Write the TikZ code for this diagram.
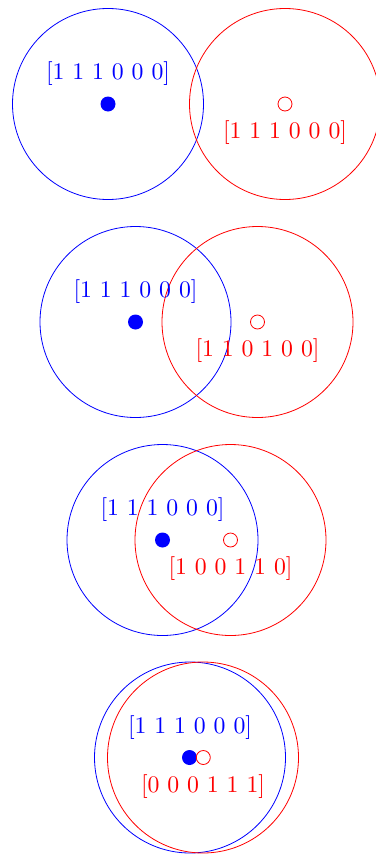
\documentclass[tikz,border=0pt]{standalone}
\newcommand{\bigtxt}[1]{\scalebox{2.375}{\fontsize{10}{12}\selectfont #1}}
\begin{document}
\begin{tikzpicture}[x=1pt,y=-1pt,
  bigb/.style={circle,draw=blue,line width=0.8pt,minimum size=191pt,inner sep=0pt},
  bigr/.style={circle,draw=red,line width=0.8pt,minimum size=191pt,inner sep=0pt},
  dotb/.style={circle,fill=blue,minimum size=15pt,inner sep=0pt},
  dotr/.style={circle,draw=red,fill=white,line width=0.8pt,minimum size=14pt,inner sep=0pt},
  labb/.style={text=blue,inner sep=0pt},
  labr/.style={text=red,inner sep=0pt}]
\useasboundingbox (0,0) rectangle (375,854);
% panel 1
\node[bigb] (B1) at (108,104) {};
\node[bigr] (R1) at (285,104) {};
\node[dotb] (db1) at (108,104) {};
\node[dotr] (dr1) at (285,104) {};
\node[labb] (lb1) at (108,74) {\bigtxt{[1 1 1 0 0 0]}};
\node[labr] (lr1) at (285,133) {\bigtxt{[1 1 1 0 0 0]}};
% panel 2
\node[bigb] (B2) at (135.5,322) {};
\node[bigr] (R2) at (257.5,322) {};
\node[dotb] (db2) at (135.5,322) {};
\node[dotr] (dr2) at (257.5,322) {};
\node[labb] (lb2) at (135.5,292) {\bigtxt{[1 1 1 0 0 0]}};
\node[labr] (lr2) at (257.5,351) {\bigtxt{[1 1 0 1 0 0]}};
% panel 3
\node[bigb] (B3) at (162.5,540) {};
\node[bigr] (R3) at (230.5,540) {};
\node[dotb] (db3) at (162.5,540) {};
\node[dotr] (dr3) at (230.5,540) {};
\node[labb] (lb3) at (162.5,510) {\bigtxt{[1 1 1 0 0 0]}};
\node[labr] (lr3) at (230.5,569) {\bigtxt{[1 0 0 1 1 0]}};
% panel 4
\node[bigb] (B4) at (190,757.5) {};
\node[bigr] (R4) at (203,757.5) {};
\node[dotb] (db4) at (189.5,757.5) {};
\node[dotr] (dr4) at (203.3,757.5) {};
\node[labb] (lb4) at (190,727.5) {\bigtxt{[1 1 1 0 0 0]}};
\node[labr] (lr4) at (203,786.5) {\bigtxt{[0 0 0 1 1 1]}};
\end{tikzpicture}
\end{document}
